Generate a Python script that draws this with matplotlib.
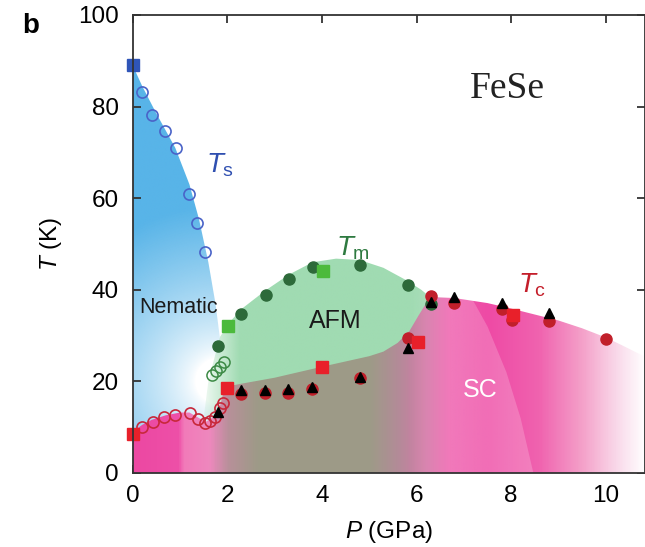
import numpy as np
import matplotlib
matplotlib.use('Agg')
import matplotlib.pyplot as plt
from matplotlib.patches import Polygon
from matplotlib.colors import LinearSegmentedColormap, to_rgb

plt.rcParams['font.family'] = ['Liberation Sans', 'DejaVu Sans']
plt.rcParams['mathtext.fontset'] = 'custom'
plt.rcParams['mathtext.it'] = 'Liberation Sans:italic'
plt.rcParams['mathtext.rm'] = 'Liberation Sans'

# Ts (nematic), open circles + square at P=0
ts_sq_p, ts_sq_t = [0.0], [89.0]
ts_p = [0.19, 0.41, 0.69, 0.92, 1.20, 1.37, 1.52]
ts_t = [83.1, 78.2, 74.7, 70.9, 61.0, 54.6, 48.3]

# Tm (AFM)
tm_p = [1.80, 2.29, 2.81, 3.30, 3.81, 4.81, 5.81, 6.30]
tm_t = [27.7, 34.7, 38.8, 42.3, 45.0, 45.5, 41.0, 36.9]
tm_sq_p = [2.01, 4.02]
tm_sq_t = [32.2, 44.1]
tm_open_p = [1.68, 1.76, 1.84, 1.92]
tm_open_t = [21.5, 22.3, 23.2, 24.2]

# Tc (SC)
tc_p = [2.29, 2.80, 3.29, 3.80, 4.81, 5.81, 6.30, 6.79, 7.81, 8.01, 8.81, 10.0]
tc_t = [17.2, 17.4, 17.5, 18.3, 20.7, 29.5, 38.6, 37.2, 35.7, 33.3, 33.2, 29.2]
tc_tri_p = [1.80, 2.29, 2.80, 3.29, 3.80, 4.81, 5.81, 6.30, 6.79, 7.81, 8.81]
tc_tri_t = [13.4, 18.1, 18.2, 18.3, 18.8, 21.0, 27.2, 37.4, 38.5, 37.2, 34.9]
tc_sq_p = [0.0, 1.99, 4.0, 6.03, 8.03]
tc_sq_t = [8.5, 18.5, 23.2, 28.5, 34.5]
tc_open_p = [0.19, 0.42, 0.67, 0.90, 1.21, 1.39, 1.53, 1.63, 1.74, 1.85, 1.90]
tc_open_t = [10.1, 11.2, 12.2, 12.7, 13.0, 11.7, 11.0, 11.4, 12.3, 14.1, 15.2]

# phase region outlines (shading only)
nem_outline = [(0, 89), (0.2, 84.5), (0.5, 78.5), (0.9, 71), (1.2, 63), (1.4, 55.5),
               (1.6, 46), (1.75, 37), (1.85, 29), (1.92, 21), (1.92, 8), (0, 5)]
afm_outline = [(1.5, 12), (1.6, 20), (1.75, 26), (1.85, 29.8), (2.1, 33.5), (2.3, 35.8),
               (2.8, 39.8), (3.3, 43.3), (3.8, 46.0), (4.3, 46.8), (4.8, 46.5), (5.3, 44.8),
               (5.8, 42.0), (6.1, 40.0), (6.4, 37.5), (6.4, 12)]
sc_outline = [(0, 0), (0, 9), (0.2, 10.5), (0.4, 11.6), (0.7, 12.6), (1.0, 13.2), (1.2, 13.2),
              (1.4, 12.0), (1.55, 11.2), (1.7, 12.2), (1.85, 14.8), (1.95, 18.8), (2.3, 19.5),
              (3.0, 20.8), (4.0, 23.2), (5.0, 25.5), (5.3, 26.5), (5.6, 28.4), (5.85, 31),
              (6.05, 34.5), (6.2, 37), (6.35, 38.4), (6.8, 38.2), (7.5, 37.1), (8.0, 35.9),
              (8.5, 34.6), (9.0, 33.3), (9.5, 31.6), (10.0, 29.6), (10.4, 27.6), (10.9, 25),
              (10.9, 0)]
arc_outline = [(5.6, 0), (5.6, 40), (7.07, 40), (7.5, 32), (7.9, 22), (8.2, 12), (8.47, 0)]

sc_stops = [(0.0, '#ec48a2'), (0.95, '#ee50a8'), (1.05, '#f27ab9'), (1.6, '#ee88be'),
            (2.0, '#b8909a'), (2.6, '#9e9a88'), (5.0, '#9d9b87'), (5.6, '#b38b98'),
            (6.2, '#d67aa9'), (6.7, '#ee58aa'), (7.5, '#ee4aa5'), (8.6, '#f063af'),
            (9.5, '#f4a0c9'), (10.2, '#f9d6e8'), (10.83, '#ffffff')]

XMAX = 10.83

fig = plt.figure(figsize=(6.45, 5.47), dpi=100)
ax = fig.add_axes([0.2057, 0.1353, 0.7943, 0.8373])
ax.set_xlim(0, XMAX)
ax.set_ylim(0, 100)

# grid for gradient images
gx = np.linspace(0, XMAX, 700)
gy = np.linspace(0, 100, 600)
P, T = np.meshgrid(gx, gy)
ext = [0, XMAX, 0, 100]


def shade(rgba, outline, z):
    patch = Polygon(outline, closed=True, facecolor='none', edgecolor='none',
                    transform=ax.transData)
    ax.add_patch(patch)
    im = ax.imshow(rgba, extent=ext, origin='lower', aspect='auto',
                   interpolation='bilinear', zorder=z)
    im.set_clip_path(patch)


# nematic: blue fading towards (1.8, 20)
d = np.hypot((P - 1.8) * 10.3, T - 20)
a = np.clip((d - 5) / 33, 0, 1) ** 0.75
img = np.zeros(P.shape + (4,))
img[..., :3] = to_rgb('#58b4e8')
img[..., 3] = a
shade(img, nem_outline, 1)

# AFM: green, fading on the left
a = np.clip((P - 1.35) / 0.9, 0, 1)
img = np.zeros(P.shape + (4,))
img[..., :3] = to_rgb('#a0dbb2')
img[..., 3] = a
shade(img, afm_outline, 2)

# SC: horizontal colour gradient
pos = [s[0] / XMAX for s in sc_stops]
cmap = LinearSegmentedColormap.from_list('sc', list(zip(pos, [s[1] for s in sc_stops])))
img = cmap(P / XMAX)
shade(img, sc_outline, 3)

# lighter band left of the arc
img = np.ones(P.shape + (4,))
img[..., 3] = 0.2 * np.clip((P - 5.8) / 0.9, 0, 1)
shade(img, arc_outline, 3.5)

# data points
ax.plot(ts_p, ts_t, 'o', ms=8, mfc='none', mec='#4a63c8', mew=1.2, zorder=5)
ax.plot(ts_sq_p, ts_sq_t, 's', ms=8.5, color='#2f55b8', zorder=6, clip_on=False)

ax.plot(tm_open_p, tm_open_t, 'o', ms=8, mfc='none', mec='#3c8a45', mew=1.1, zorder=5)
ax.plot(tm_p, tm_t, 'o', ms=8, color='#2d6a3a', zorder=5)
ax.plot(tm_sq_p, tm_sq_t, 's', ms=8.5, color='#4cba3c', zorder=6)

ax.plot(tc_open_p, tc_open_t, 'o', ms=8, mfc='none', mec='#c8283a', mew=1.2, zorder=5)
ax.plot(tc_p, tc_t, 'o', ms=8, color='#c11f2a', zorder=5)
ax.plot(tc_tri_p, tc_tri_t, '^', ms=7.5, color='black', zorder=6)
ax.plot(tc_sq_p, tc_sq_t, 's', ms=8.5, color='#e8202a', zorder=7, clip_on=False)

# labels
ax.text(1.55, 65.5, r'$T_\mathrm{s}$', color='#2f4fb0', fontsize=20)
ax.text(4.3, 47.5, r'$T_\mathrm{m}$', color='#2e7a40', fontsize=20)
ax.text(8.15, 39.3, r'$T_\mathrm{c}$', color='#c41e2a', fontsize=20)
ax.text(0.13, 35.0, 'Nematic', fontsize=15.5, color='#1a1a1a', zorder=8)
ax.text(4.28, 33.2, 'AFM', fontsize=18, color='#1a1a1a', ha='center', va='center', zorder=8)
ax.text(7.35, 18.1, 'SC', fontsize=18, color='white', ha='center', va='center', zorder=8)
ax.text(7.12, 81.8, 'FeSe', fontsize=27, family='Liberation Serif', color='#222222')
fig.text(0.034, 0.94, 'b', fontsize=20, fontweight='bold', va='baseline')

ax.set_xticks([0, 2, 4, 6, 8, 10])
ax.set_yticks([0, 20, 40, 60, 80, 100])
ax.tick_params(direction='in', length=6, width=1.3, labelsize=17.5, top=True, right=True,
               color='#333333')
ax.tick_params(axis='x', pad=9)
ax.tick_params(axis='y', pad=10)
for s in ax.spines.values():
    s.set_linewidth(1.3)
    s.set_color('#333333')
    s.set_zorder(10)
ax.set_xlabel(r'$P$ (GPa)', fontsize=17.5, labelpad=8)
ax.set_ylabel(r'$T$ (K)', fontsize=17.5, labelpad=10)

fig.savefig('out.png', dpi=100)
